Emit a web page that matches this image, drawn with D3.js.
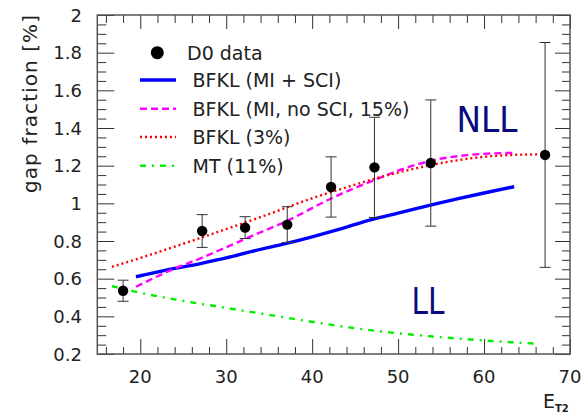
<!DOCTYPE html>
<html>
<head>
<meta charset="utf-8">
<script src="https://cdn.jsdelivr.net/npm/d3@7"></script>
<style>
  html, body { margin: 0; padding: 0; background: #fff; }
  svg { display: block; }
  text { font-family: "DejaVu Sans", sans-serif; fill: #222; }
</style>
</head>
<body>
<svg id="chart" width="582" height="413"></svg>
<script>
// D0 rapidity-gap fraction vs. second-jet E_T
const etData  = [18, 27.2, 32.2, 37.1, 42.2, 47.25, 53.8, 67.1];
const gapData = [0.536, 0.853, 0.871, 0.887, 1.087, 1.191, 1.214, 1.257];
const errData = [0.056, 0.087, 0.058, 0.095, 0.16, 0.266, 0.335, 0.597];

// BFKL (MI + SCI)
const bfklSciX = [19.5, 23, 27, 30, 33, 37, 40, 43, 47, 50, 54, 57, 60, 63.5];
const bfklSciY = [0.61, 0.645, 0.68, 0.71, 0.745, 0.787, 0.822, 0.86, 0.915, 0.948, 0.993, 1.025, 1.055, 1.088];

// BFKL (MI, no SCI, 15%)
const bfklNoSciX = [19.5, 23.6, 27, 32.8, 37, 42.4, 47.25, 50.2, 54, 58, 61, 63.5];
const bfklNoSciY = [0.557, 0.646, 0.708, 0.823, 0.905, 1.03, 1.124, 1.177, 1.228, 1.256, 1.265, 1.268];

// BFKL (3%)
const bfkl3X = [16.7, 20, 24, 28, 32, 36, 40, 44, 48, 52, 56, 60, 64, 67];
const bfkl3Y = [0.663, 0.71, 0.77, 0.832, 0.895, 0.96, 1.027, 1.085, 1.14, 1.185, 1.222, 1.247, 1.258, 1.26];

// MT (11%)
const mtX = [16.7, 19, 24, 29, 34, 39, 44, 49, 54, 59, 66];
const mtY = [0.56, 0.535, 0.49, 0.452, 0.415, 0.378, 0.343, 0.315, 0.293, 0.275, 0.255];

const xTicks = [20, 30, 40, 50, 60, 70];
const yTicks = [0.2, 0.4, 0.6, 0.8, 1, 1.2, 1.4, 1.6, 1.8, 2];
const legendLabels = ["D0 data", "BFKL (MI + SCI)", "BFKL (MI, no SCI, 15%)", "BFKL (3%)", "MT (11%)"];

(function () {
  const svg = d3.select("#chart");
  const pLeft = 97.3, pRight = 570, pTop = 15, pBottom = 354;

  const x = d3.scaleLinear().domain([15, 70]).range([pLeft, pRight]);
  const y = d3.scaleLinear().domain([0.2, 2]).range([pBottom, pTop]);

  const frameColor = "#555";
  const tickColor = "#333";

  // minor / major tick positions
  const xMinor = d3.range(16, 70, 2).filter(v => v % 10 !== 0);
  const yMinor = d3.range(0.25, 2.0, 0.05).map(v => +v.toFixed(2))
    .filter(v => Math.abs(v * 5 - Math.round(v * 5)) > 1e-6);

  function drawAxis(axisGen, transform, values, size) {
    const g = svg.append("g").attr("transform", transform)
      .call(axisGen.tickValues(values).tickSize(size).tickFormat(""));
    g.select(".domain").remove();
    g.selectAll(".tick line").attr("stroke", tickColor).attr("stroke-width", 1);
    return g;
  }

  // bottom (ticks point up into the plot)
  drawAxis(d3.axisBottom(x), `translate(0,${pBottom})`, xTicks, -15);
  drawAxis(d3.axisBottom(x), `translate(0,${pBottom})`, xMinor, -7);
  // top
  drawAxis(d3.axisTop(x), `translate(0,${pTop})`, xTicks, -14);
  drawAxis(d3.axisTop(x), `translate(0,${pTop})`, xMinor, -8);
  // left
  drawAxis(d3.axisLeft(y), `translate(${pLeft},0)`, yTicks, -17);
  drawAxis(d3.axisLeft(y), `translate(${pLeft},0)`, yMinor, -9);
  // right
  drawAxis(d3.axisRight(y), `translate(${pRight},0)`, yTicks, -15);
  drawAxis(d3.axisRight(y), `translate(${pRight},0)`, yMinor, -8);

  // frame
  svg.append("rect")
    .attr("x", pLeft).attr("y", pTop)
    .attr("width", pRight - pLeft).attr("height", pBottom - pTop)
    .attr("fill", "none").attr("stroke", frameColor).attr("stroke-width", 1.5);

  // tick labels
  svg.append("g").selectAll("text").data(xTicks).join("text")
    .attr("x", d => x(d)).attr("y", 383)
    .attr("text-anchor", "middle").attr("font-size", 18)
    .text(d => d);

  svg.append("g").selectAll("text").data(yTicks).join("text")
    .attr("x", 82).attr("y", d => y(d) + 6.5)
    .attr("text-anchor", "end").attr("font-size", 18)
    .text(d => d3.format("~g")(d));

  // axis titles
  svg.append("text")
    .attr("transform", "translate(37,104) rotate(-90)")
    .attr("text-anchor", "middle").attr("font-size", 20)
    .attr("textLength", 178).attr("lengthAdjust", "spacing")
    .text("gap fraction  [%]");

  const et = svg.append("text").attr("x", 543).attr("y", 408).attr("font-size", 19);
  et.append("tspan").text("E");
  et.append("tspan").attr("font-size", 10).attr("font-weight", "bold").attr("dy", 4).text("T2");

  // theory curves
  const line = d3.line().x(d => x(d[0])).y(d => y(d[1])).curve(d3.curveMonotoneX);
  const curves = [
    { xs: bfklSciX,   ys: bfklSciY,   color: "#0000ff", width: 3.4, dash: null },
    { xs: bfklNoSciX, ys: bfklNoSciY, color: "#ff00ff", width: 2.4, dash: "7,4" },
    { xs: bfkl3X,     ys: bfkl3Y,     color: "#ff0000", width: 2.4, dash: "2,3" },
    { xs: mtX,        ys: mtY,        color: "#00ee00", width: 2.4, dash: "6,6,2,6" }
  ];
  curves.forEach(c => {
    svg.append("path")
      .datum(d3.zip(c.xs, c.ys))
      .attr("d", line)
      .attr("fill", "none")
      .attr("stroke", c.color)
      .attr("stroke-width", c.width)
      .attr("stroke-dasharray", c.dash);
  });

  // data points with error bars
  const pts = d3.zip(etData, gapData, errData);
  const eg = svg.append("g").attr("stroke", "#333").attr("stroke-width", 1);
  eg.selectAll(".bar").data(pts).join("line").attr("class", "bar")
    .attr("x1", d => x(d[0])).attr("x2", d => x(d[0]))
    .attr("y1", d => y(d[1] + d[2])).attr("y2", d => y(d[1] - d[2]));
  eg.selectAll(".capT").data(pts).join("line").attr("class", "capT")
    .attr("x1", d => x(d[0]) - 5.5).attr("x2", d => x(d[0]) + 5.5)
    .attr("y1", d => y(d[1] + d[2])).attr("y2", d => y(d[1] + d[2]));
  eg.selectAll(".capB").data(pts).join("line").attr("class", "capB")
    .attr("x1", d => x(d[0]) - 5.5).attr("x2", d => x(d[0]) + 5.5)
    .attr("y1", d => y(d[1] - d[2])).attr("y2", d => y(d[1] - d[2]));
  svg.append("g").selectAll("circle").data(pts).join("circle")
    .attr("cx", d => x(d[0])).attr("cy", d => y(d[1]))
    .attr("r", 5.2).attr("fill", "#000");

  // legend
  const legRows = [52.7, 80, 108.7, 137, 165.7];
  const lg = svg.append("g");
  lg.append("circle").attr("cx", 157.3).attr("cy", legRows[0]).attr("r", 6.5).attr("fill", "#000");
  curves.forEach((c, i) => {
    lg.append("line")
      .attr("x1", 140).attr("x2", 176)
      .attr("y1", legRows[i + 1]).attr("y2", legRows[i + 1])
      .attr("stroke", c.color).attr("stroke-width", c.width)
      .attr("stroke-dasharray", c.dash);
  });
  lg.selectAll("text").data(legendLabels).join("text")
    .attr("x", (d, i) => i === 0 ? 187 : 192.5)
    .attr("y", (d, i) => legRows[i] + 7)
    .attr("font-size", 19)
    .text(d => d);

  // regime labels
  svg.append("text").attr("x", 456.5).attr("y", 132.3)
    .attr("font-size", 35).style("fill", "#0a0a80")
    .attr("textLength", 61).attr("lengthAdjust", "spacingAndGlyphs")
    .text("NLL");
  svg.append("text").attr("x", 411.5).attr("y", 314.3)
    .attr("font-size", 37).style("fill", "#0a0a80")
    .attr("textLength", 33).attr("lengthAdjust", "spacingAndGlyphs")
    .text("LL");
})();
</script>
</body>
</html>
